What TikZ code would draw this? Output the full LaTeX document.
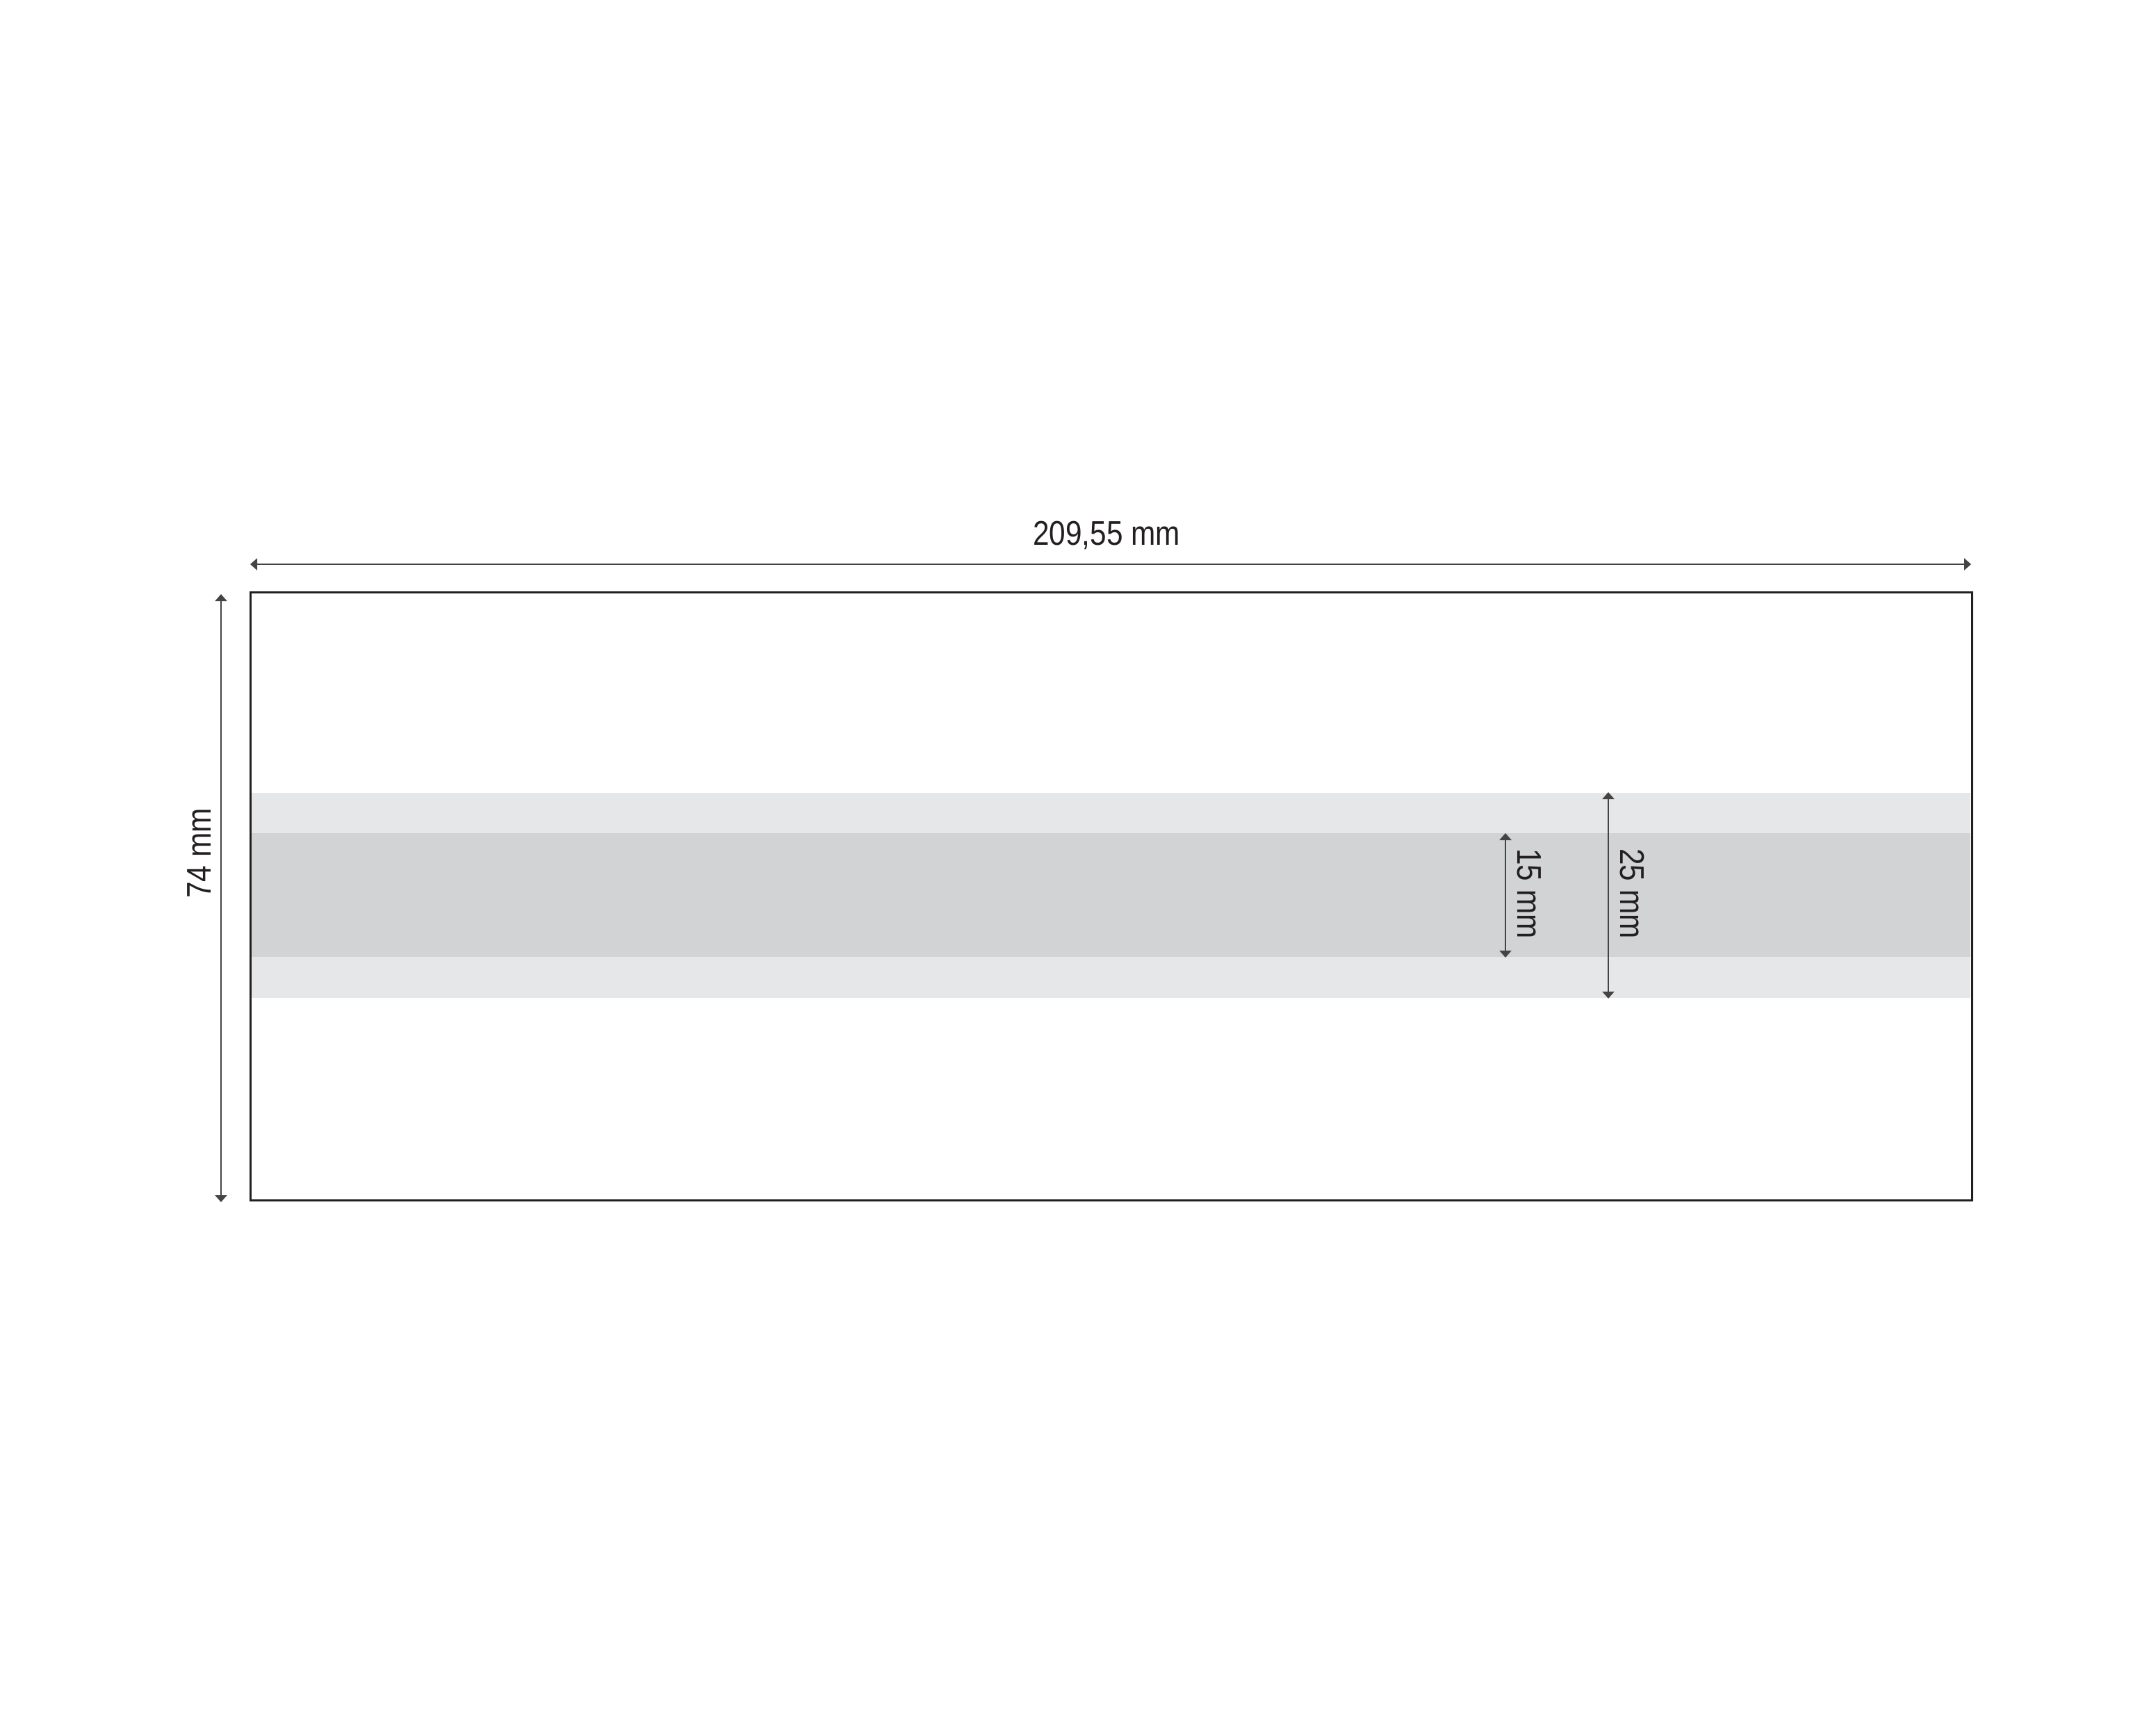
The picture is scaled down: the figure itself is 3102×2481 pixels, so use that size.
\documentclass[tikz,border=0pt]{standalone}
\usepackage{fontspec}
\setmainfont[FakeStretch=0.86]{Liberation Sans}
\usetikzlibrary{arrows.meta}
\definecolor{lightband}{HTML}{E6E7E8}
\definecolor{darkband}{HTML}{D1D3D4}
\definecolor{frame}{HTML}{231F20}
\definecolor{dimline}{HTML}{444444}
\tikzset{
  px/.style={x=0.01cm,y=-0.01cm},
  dimarrow/.style={draw=dimline,line width=0.55pt,{Triangle[length=0.1cm,width=0.17cm]}-{Triangle[length=0.1cm,width=0.17cm]}},
  dimlabel/.style={text=frame,font=\fontsize{14}{16}\selectfont,inner sep=0pt},
  framebox/.style={draw=frame,line width=0.85pt}
}
\begin{document}
\begin{tikzpicture}[px]
\useasboundingbox (0,0) rectangle (3102,2481);
% bands
\fill[lightband] (359,1141) rectangle (2835,1436);
\fill[darkband] (359,1199) rectangle (2835,1377);
% frame
\node[framebox,minimum width=24.76cm,minimum height=8.74cm,inner sep=0pt,anchor=north west] (sheet) at (359,851) {};
% dimension coordinates
\coordinate (wl) at (360,812);
\coordinate (wr) at (2836,812);
\coordinate (ht) at (318,855);
\coordinate (hb) at (318,1730);
\coordinate (at) at (2314,1140);
\coordinate (ab) at (2314,1437);
\coordinate (bt) at (2166,1199);
\coordinate (bb) at (2166,1378);
\draw[dimarrow] (wl) -- (wr);
\draw[dimarrow] (ht) -- (hb);
\draw[dimarrow] (at) -- (ab);
\draw[dimarrow] (bt) -- (bb);
% labels
\node[dimlabel] (wlab) at (1592,770) {209,55 mm};
\node[dimlabel,rotate=90] (hlab) at (287,1228) {74 mm};
\node[dimlabel,rotate=-90] (alab) at (2348,1286) {25 mm};
\node[dimlabel,rotate=-90] (blab) at (2200,1286) {15 mm};
\end{tikzpicture}
\end{document}
